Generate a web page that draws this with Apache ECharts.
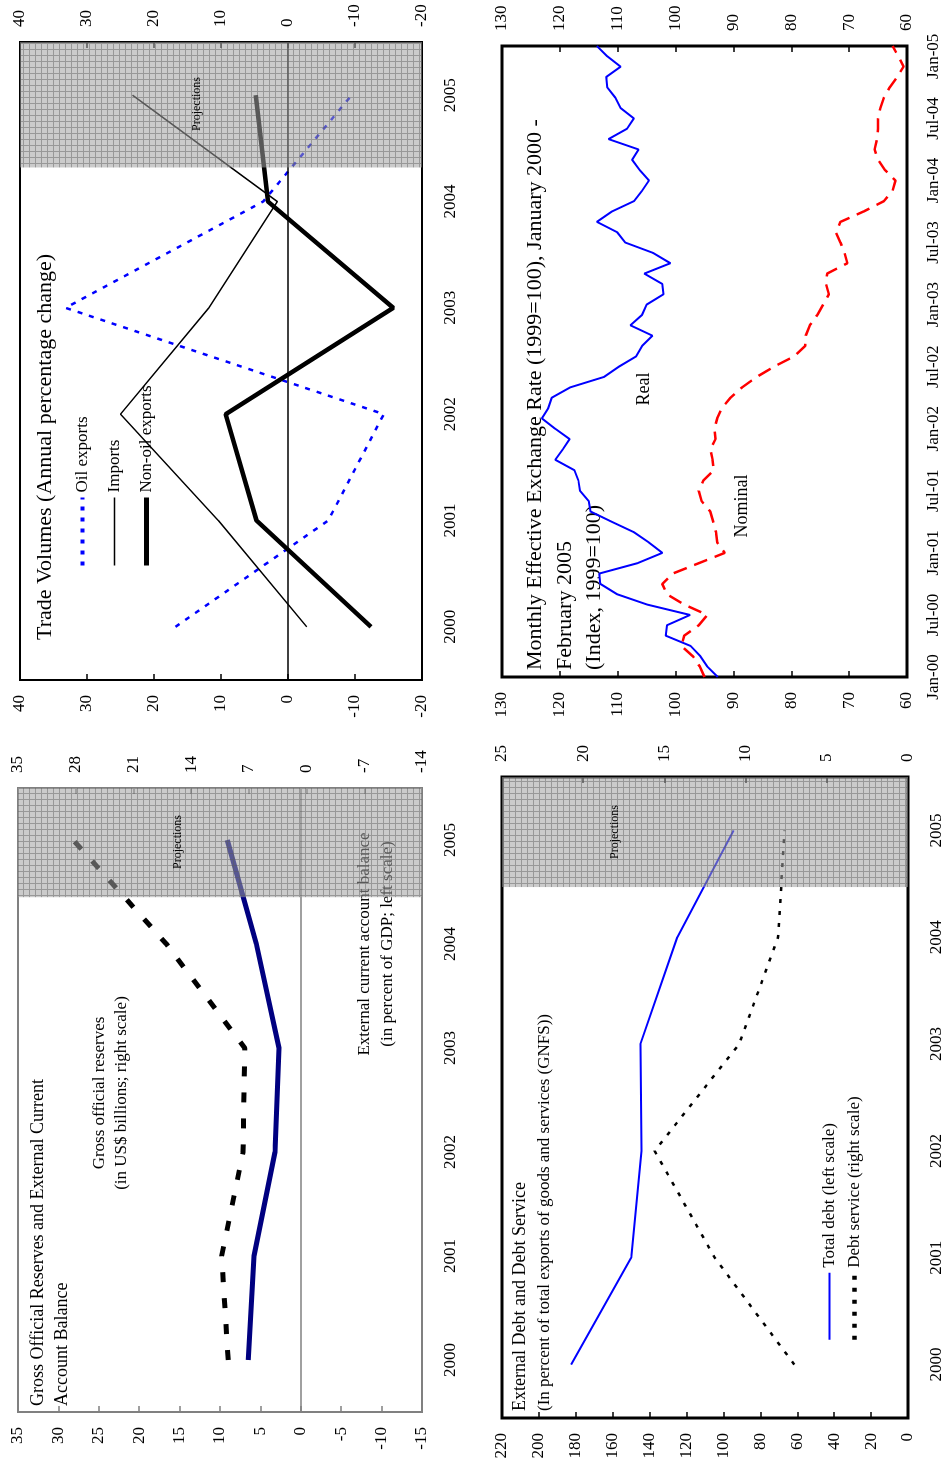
<!DOCTYPE html>
<html>
<head>
<meta charset="utf-8">
<script src="https://cdn.jsdelivr.net/npm/echarts@6/dist/echarts.min.js"></script>
<style>
  html, body { margin: 0; padding: 0; background: #fff; overflow: hidden; width: 945px; height: 1465px; }
  /* The four panels are laid out landscape and turned a quarter turn counter-clockwise */
  #chart { position: absolute; left: 0; top: 0; width: 1465px; height: 945px;
           transform-origin: 0 0; transform: translate(0, 1465px) rotate(-90deg); }
</style>
</head>
<body>
<div id="chart"></div>
<script>
// ---- Annual categories ----
const years = ['2000', '2001', '2002', '2003', '2004', '2005'];

// ---- Gross official reserves (US$ bn, right scale) and current account (% of GDP, left scale) ----
const currentAccount = [6.5, 5.8, 3.2, 2.7, 5.5, 9.1];
const grossReserves = [9.5, 10.3, 7.7, 7.5, 17.0, 28.3];

// ---- Trade volumes, annual percentage change ----
const oilExports = [16.8, -6.0, -14.3, 33.2, 3.7, -9.5];
const imports = [-2.8, 10.4, 25.0, 11.8, 1.6, 23.2];
const nonOilExports = [-12.4, 4.7, 9.3, -15.7, 3.0, 4.8];

// ---- External debt (left scale) and debt service (right scale), % of GNFS exports ----
const totalDebt = [182.6, 150.0, 144.4, 145.0, 125.0, 94.5];
const debtService = [7.0, 11.9, 15.6, 10.4, 8.0, 7.6];

// ---- Monthly effective exchange rate, Jan 2000 - Feb 2005 (1999=100) ----
const monthTicks = ['Jan-00', 'Jul-00', 'Jan-01', 'Jul-01', 'Jan-02', 'Jul-02',
                    'Jan-03', 'Jul-03', 'Jan-04', 'Jul-04', 'Jan-05'];
const realRate = [92.7, 94.5, 95.7, 97.4, 101.7, 101.5, 97.5, 104.9, 110.1, 113.0,
                  113.2, 106.6, 102.3, 104.6, 107.2, 111.0, 114.7, 115.0, 116.5, 116.8,
                  117.5, 120.8, 119.5, 118.3, 120.8, 123.1, 122.0, 121.4, 118.2, 112.4,
                  109.8, 106.8, 105.8, 104.0, 107.8, 105.8, 105.0, 102.1, 102.3, 105.4,
                  100.9, 103.9, 108.7, 110.1, 113.6, 111.0, 107.2, 105.8, 104.6, 106.2,
                  107.5, 106.4, 111.6, 108.4, 107.2, 109.5, 110.4, 111.8, 112.0, 109.5,
                  111.8, 113.6];
const nominalRate = [95.0, 95.8, 97.0, 99.0, 98.5, 96.0, 94.5, 98.5, 101.5, 102.3,
                     100.5, 96.0, 91.5, 92.8, 93.0, 93.5, 94.0, 95.5, 96.0, 95.2,
                     93.4, 93.6, 94.0, 93.1, 93.3, 92.8, 92.0, 90.5, 88.5, 86.0,
                     83.0, 79.5, 77.6, 77.5, 76.8, 75.5, 74.5, 73.5, 74.0, 73.8,
                     70.3, 70.8, 71.5, 72.3, 71.5, 67.5, 64.0, 62.5, 62.0, 63.8,
                     65.0, 65.6, 65.2, 65.0, 65.0, 64.6, 64.0, 63.0, 61.7, 60.6,
                     61.5, 62.5];

// Where the projection band begins (in category units, 0 = 2000)
const projectionStart = { reserves: 4.45, trade: 4.32, debt: 4.47 };

const SERIF = '"Liberation Serif", "Times New Roman", serif';

// Hatched grey fill for the projection band (drawn translucent over the lines)
const tile = document.createElement('canvas');
tile.width = 6; tile.height = 6;
(function () {
  const c = tile.getContext('2d');
  c.fillStyle = 'rgba(160,160,160,0.55)';
  c.fillRect(0, 0, 6, 6);
  c.fillStyle = 'rgba(90,90,90,0.45)';
  c.fillRect(5, 0, 1, 6);
  c.fillRect(0, 5, 5, 1);
})();
const shadePattern = { image: tile, repeat: 'repeat' };

function catAxis(grid) {
  return {
    type: 'category', gridIndex: grid, data: years, boundaryGap: true,
    axisLine: { show: false, onZero: false }, axisTick: { show: false },
    splitLine: { show: false },
    axisLabel: { margin: 20, fontSize: 17, fontFamily: SERIF, color: '#000' }
  };
}
function bandAxis(grid) {
  return { type: 'value', gridIndex: grid, min: -0.5, max: 5.5, show: false,
           axisLine: { onZero: false } };
}
function valAxis(grid, min, max, interval, position, tickColor) {
  return {
    type: 'value', gridIndex: grid, position, min, max, interval,
    axisLine: { show: false, onZero: false }, splitLine: { show: false },
    axisTick: { show: true, inside: true, length: 6, lineStyle: { color: tickColor, width: 1.5 } },
    axisLabel: { margin: 15, fontSize: 17, fontFamily: SERIF, color: '#000' }
  };
}
function band(xIdx, yIdx, start) {
  return {
    type: 'custom', xAxisIndex: xIdx, yAxisIndex: yIdx, z: 10, silent: true,
    data: [[start, 5.5]],
    renderItem: function (params, api) {
      const cs = params.coordSys;
      const x0 = api.coord([api.value(0), 0])[0];
      const x1 = api.coord([api.value(1), 0])[0];
      return { type: 'rect', shape: { x: x0, y: cs.y, width: x1 - x0, height: cs.height },
               style: { fill: shadePattern } };
    }
  };
}
function zeroLine(color) {
  return { silent: true, symbol: ['none', 'none'], label: { show: false },
           lineStyle: { color, width: 1.5, type: 'solid' }, data: [{ yAxis: 0 }] };
}
function text(x, y, str, size, align, z) {
  return { type: 'text', x, y, z: z || 1,
           style: { text: str, font: size + 'px ' + SERIF, fill: '#000',
                    align: align || 'left', verticalAlign: 'middle' } };
}
function legendBase(left, top, itemWidth, itemGap, items) {
  return {
    data: items, orient: 'vertical', left, top, itemWidth, itemHeight: 14, itemGap,
    selectedMode: false, padding: 0,
    itemStyle: { opacity: 0, color: 'transparent', borderWidth: 0 },
    lineStyle: { width: 'inherit', type: 'inherit' },
    textStyle: { fontSize: 17, fontFamily: SERIF, color: '#000' }
  };
}

const chart = echarts.init(document.getElementById('chart'), null, { renderer: 'canvas' });

chart.setOption({
  animation: false,
  backgroundColor: '#fff',
  grid: [
    { left: 53, top: 18, width: 624, height: 404, show: true, borderColor: '#808080', borderWidth: 2, backgroundColor: 'transparent' },
    { left: 785, top: 20, width: 638, height: 402, show: true, borderColor: '#000', borderWidth: 2, backgroundColor: 'transparent' },
    { left: 47, top: 502, width: 641, height: 406, show: true, borderColor: '#000', borderWidth: 3, backgroundColor: 'transparent' },
    { left: 788, top: 502, width: 631, height: 405, show: true, borderColor: '#000', borderWidth: 3, backgroundColor: 'transparent' }
  ],
  xAxis: [
    catAxis(0), bandAxis(0),
    catAxis(1), bandAxis(1),
    catAxis(2), bandAxis(2),
    {
      type: 'value', gridIndex: 3, min: 0, max: realRate.length - 1, interval: 6,
      axisLine: { show: false, onZero: false }, axisTick: { show: false }, splitLine: { show: false },
      axisLabel: { margin: 18, fontSize: 17, fontFamily: SERIF, color: '#000',
                   formatter: v => (v % 6 === 0 && monthTicks[v / 6]) ? monthTicks[v / 6] : '' }
    }
  ],
  yAxis: [
    valAxis(0, -15, 35, 5, 'left', '#808080'),
    valAxis(0, -14, 35, 7, 'right', '#808080'),
    valAxis(1, -20, 40, 10, 'left', '#000'),
    valAxis(1, -20, 40, 10, 'right', '#000'),
    valAxis(2, 0, 220, 20, 'left', '#000'),
    valAxis(2, 0, 25, 5, 'right', '#000'),
    valAxis(3, 60, 130, 10, 'left', '#000'),
    valAxis(3, 60, 130, 10, 'right', '#000')
  ],
  legend: [
    legendBase(897, 74, 68, 15, [
      { name: 'Oil exports', lineStyle: { width: 4, type: [4, 7] } },
      { name: 'Imports', lineStyle: { width: 1.5 } },
      { name: 'Non-oil exports', lineStyle: { width: 5 } }
    ]),
    legendBase(123, 821, 67, 8, [
      { name: 'Total debt (left scale)', lineStyle: { width: 2 } },
      { name: 'Debt service (right scale)', lineStyle: { width: 4.5, type: [4, 8] } }
    ])
  ],
  series: [
    // Reserves and current account
    { name: 'External current account balance', type: 'line', xAxisIndex: 0, yAxisIndex: 0,
      data: currentAccount, symbol: 'none', z: 3,
      lineStyle: { color: '#000080', width: 5 },
      markLine: zeroLine('#808080') },
    { name: 'Gross official reserves', type: 'line', xAxisIndex: 0, yAxisIndex: 1,
      data: grossReserves, symbol: 'none', z: 3,
      lineStyle: { color: '#000', width: 5, type: [10, 16] } },
    band(1, 0, projectionStart.reserves),

    // Trade volumes
    { name: 'Oil exports', type: 'line', xAxisIndex: 2, yAxisIndex: 2,
      data: oilExports, symbol: 'none', z: 3, itemStyle: { color: '#0000ff' },
      lineStyle: { color: '#0000ff', width: 2.5, type: [5, 7] } },
    { name: 'Imports', type: 'line', xAxisIndex: 2, yAxisIndex: 2,
      data: imports, symbol: 'none', z: 3, itemStyle: { color: '#000' },
      lineStyle: { color: '#000', width: 1.5 },
      markLine: zeroLine('#000') },
    { name: 'Non-oil exports', type: 'line', xAxisIndex: 2, yAxisIndex: 2,
      data: nonOilExports, symbol: 'none', z: 3, itemStyle: { color: '#000' },
      lineStyle: { color: '#000', width: 4.5 } },
    band(3, 2, projectionStart.trade),

    // External debt
    { name: 'Total debt (left scale)', type: 'line', xAxisIndex: 4, yAxisIndex: 4,
      data: totalDebt, symbol: 'none', z: 3, itemStyle: { color: '#0000ff' },
      lineStyle: { color: '#0000ff', width: 2 } },
    { name: 'Debt service (right scale)', type: 'line', xAxisIndex: 4, yAxisIndex: 5,
      data: debtService, symbol: 'none', z: 3, itemStyle: { color: '#000' },
      lineStyle: { color: '#000', width: 2.5, type: [4, 8] } },
    band(5, 4, projectionStart.debt),

    // Effective exchange rate
    { name: 'Real', type: 'line', xAxisIndex: 6, yAxisIndex: 6,
      data: realRate.map((v, i) => [i, v]), symbol: 'none', z: 3,
      lineStyle: { color: '#0000ff', width: 2 } },
    { name: 'Nominal', type: 'line', xAxisIndex: 6, yAxisIndex: 6,
      data: nominalRate.map((v, i) => [i, v]), symbol: 'none', z: 3,
      lineStyle: { color: '#ff0000', width: 2.5, type: [14, 8] } }
  ],
  graphic: [
    text(825, 45, 'Trade Volumes (Annual percentage change)', 22),
    text(1361, 197, 'Projections', 12, 'center', 100),

    text(795, 535, 'Monthly Effective Exchange Rate (1999=100), January 2000 -', 22),
    text(795, 565, 'February 2005', 22),
    text(795, 594, '(Index, 1999=100)', 22),
    text(1076, 644, 'Real', 18, 'center'),
    text(959, 742, 'Nominal', 18, 'center'),

    text(59, 38, 'Gross Official Reserves and External Current', 18),
    text(59, 62, 'Account Balance', 18),
    text(372, 100, 'Gross official reserves', 17, 'center'),
    text(372, 122, '(in US$ billions; right scale)', 17, 'center'),
    text(521, 365, 'External current account balance', 17, 'center'),
    text(521, 388, '(in percent of GDP; left scale)', 17, 'center'),
    text(623, 178, 'Projections', 12, 'center', 100),

    text(54, 520, 'External Debt and Debt Service', 18),
    text(54, 545, '(In percent of total exports of goods and services (GNFS))', 17),
    text(633, 615, 'Projections', 12, 'center', 100)
  ]
});
</script>
</body>
</html>
